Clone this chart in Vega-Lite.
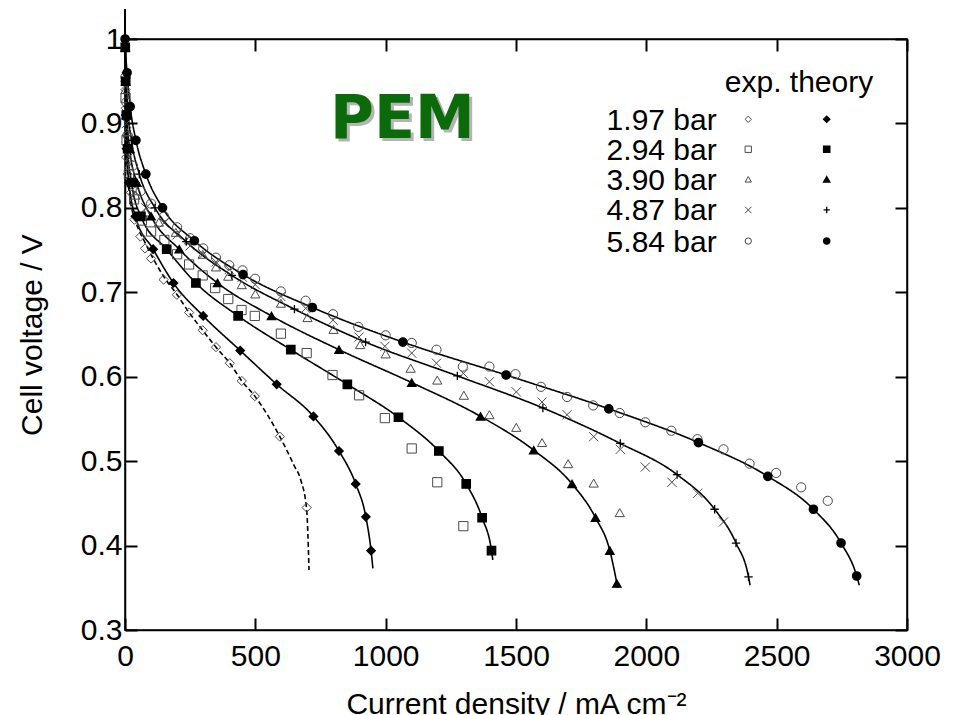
{
 "$schema": "https://vega.github.io/schema/vega-lite/v6.json",
 "width": 782, "height": 591,
 "autosize": {"type": "none"},
 "padding": {"left": 125, "top": 39, "right": 50, "bottom": 85},
 "background": "white",
 "config": {"view": {"stroke": "black", "strokeWidth": 1.5}, "font": "Liberation Sans"},
 "datasets": {
  "curves": [
   {"p":"1.97","kind":"theory","x":0,"y":1.035},{"p":"1.97","kind":"theory","x":0.5,"y":0.99},{"p":"1.97","kind":"theory","x":1.5,"y":0.95},{"p":"1.97","kind":"theory","x":3,"y":0.91},{"p":"1.97","kind":"theory","x":6,"y":0.87},{"p":"1.97","kind":"theory","x":15,"y":0.83},{"p":"1.97","kind":"theory","x":40,"y":0.79},{"p":"1.97","kind":"theory","x":108,"y":0.751},{"p":"1.97","kind":"theory","x":186,"y":0.711},{"p":"1.97","kind":"theory","x":300,"y":0.672},{"p":"1.97","kind":"theory","x":442,"y":0.631},{"p":"1.97","kind":"theory","x":582,"y":0.591},{"p":"1.97","kind":"theory","x":723,"y":0.553},{"p":"1.97","kind":"theory","x":821,"y":0.512},{"p":"1.97","kind":"theory","x":885,"y":0.473},{"p":"1.97","kind":"theory","x":924,"y":0.434},{"p":"1.97","kind":"theory","x":944,"y":0.394},{"p":"1.97","kind":"theory","x":951,"y":0.373},
   {"p":"2.94","kind":"theory","x":0,"y":1.035},{"p":"2.94","kind":"theory","x":1,"y":0.99},{"p":"2.94","kind":"theory","x":2.5,"y":0.95},{"p":"2.94","kind":"theory","x":5,"y":0.91},{"p":"2.94","kind":"theory","x":10,"y":0.87},{"p":"2.94","kind":"theory","x":25,"y":0.83},{"p":"2.94","kind":"theory","x":61,"y":0.79},{"p":"2.94","kind":"theory","x":160,"y":0.751},{"p":"2.94","kind":"theory","x":272,"y":0.711},{"p":"2.94","kind":"theory","x":434,"y":0.672},{"p":"2.94","kind":"theory","x":636,"y":0.632},{"p":"2.94","kind":"theory","x":853,"y":0.591},{"p":"2.94","kind":"theory","x":1049,"y":0.552},{"p":"2.94","kind":"theory","x":1204,"y":0.512},{"p":"2.94","kind":"theory","x":1309,"y":0.473},{"p":"2.94","kind":"theory","x":1370,"y":0.433},{"p":"2.94","kind":"theory","x":1406,"y":0.394},{"p":"2.94","kind":"theory","x":1411,"y":0.383},
   {"p":"3.90","kind":"theory","x":0,"y":1.035},{"p":"3.90","kind":"theory","x":1,"y":0.99},{"p":"3.90","kind":"theory","x":3,"y":0.95},{"p":"3.90","kind":"theory","x":7,"y":0.91},{"p":"3.90","kind":"theory","x":18,"y":0.87},{"p":"3.90","kind":"theory","x":45,"y":0.83},{"p":"3.90","kind":"theory","x":100,"y":0.79},{"p":"3.90","kind":"theory","x":208,"y":0.751},{"p":"3.90","kind":"theory","x":355,"y":0.711},{"p":"3.90","kind":"theory","x":562,"y":0.672},{"p":"3.90","kind":"theory","x":821,"y":0.632},{"p":"3.90","kind":"theory","x":1100,"y":0.593},{"p":"3.90","kind":"theory","x":1364,"y":0.553},{"p":"3.90","kind":"theory","x":1568,"y":0.513},{"p":"3.90","kind":"theory","x":1715,"y":0.473},{"p":"3.90","kind":"theory","x":1805,"y":0.433},{"p":"3.90","kind":"theory","x":1860,"y":0.394},{"p":"3.90","kind":"theory","x":1887,"y":0.355},{"p":"3.90","kind":"theory","x":1890,"y":0.35},
   {"p":"4.87","kind":"theory","x":0,"y":1.035},{"p":"4.87","kind":"theory","x":1,"y":1.0},{"p":"4.87","kind":"theory","x":4,"y":0.96},{"p":"4.87","kind":"theory","x":10,"y":0.92},{"p":"4.87","kind":"theory","x":25,"y":0.88},{"p":"4.87","kind":"theory","x":55,"y":0.84},{"p":"4.87","kind":"theory","x":115,"y":0.8},{"p":"4.87","kind":"theory","x":235,"y":0.76},{"p":"4.87","kind":"theory","x":410,"y":0.72},{"p":"4.87","kind":"theory","x":650,"y":0.68},{"p":"4.87","kind":"theory","x":923,"y":0.641},{"p":"4.87","kind":"theory","x":1275,"y":0.601},{"p":"4.87","kind":"theory","x":1603,"y":0.563},{"p":"4.87","kind":"theory","x":1900,"y":0.521},{"p":"4.87","kind":"theory","x":2118,"y":0.484},{"p":"4.87","kind":"theory","x":2262,"y":0.443},{"p":"4.87","kind":"theory","x":2344,"y":0.403},{"p":"4.87","kind":"theory","x":2392,"y":0.363},{"p":"4.87","kind":"theory","x":2398,"y":0.353},
   {"p":"5.84","kind":"theory","x":0,"y":1.035},{"p":"5.84","kind":"theory","x":0.5,"y":1.0},{"p":"5.84","kind":"theory","x":8,"y":0.96},{"p":"5.84","kind":"theory","x":20,"y":0.92},{"p":"5.84","kind":"theory","x":42,"y":0.88},{"p":"5.84","kind":"theory","x":80,"y":0.84},{"p":"5.84","kind":"theory","x":144,"y":0.8},{"p":"5.84","kind":"theory","x":266,"y":0.761},{"p":"5.84","kind":"theory","x":453,"y":0.721},{"p":"5.84","kind":"theory","x":719,"y":0.682},{"p":"5.84","kind":"theory","x":1066,"y":0.641},{"p":"5.84","kind":"theory","x":1462,"y":0.602},{"p":"5.84","kind":"theory","x":1856,"y":0.562},{"p":"5.84","kind":"theory","x":2200,"y":0.522},{"p":"5.84","kind":"theory","x":2466,"y":0.482},{"p":"5.84","kind":"theory","x":2641,"y":0.443},{"p":"5.84","kind":"theory","x":2747,"y":0.403},{"p":"5.84","kind":"theory","x":2807,"y":0.364},{"p":"5.84","kind":"theory","x":2817,"y":0.353},
   {"p":"1.97","kind":"fit","x":0,"y":1.035},{"p":"1.97","kind":"fit","x":1,"y":0.95},{"p":"1.97","kind":"fit","x":3,"y":0.9},{"p":"1.97","kind":"fit","x":8,"y":0.85},{"p":"1.97","kind":"fit","x":20,"y":0.81},{"p":"1.97","kind":"fit","x":40,"y":0.785},{"p":"1.97","kind":"fit","x":80,"y":0.757},{"p":"1.97","kind":"fit","x":150,"y":0.718},{"p":"1.97","kind":"fit","x":200,"y":0.697},{"p":"1.97","kind":"fit","x":246,"y":0.676},{"p":"1.97","kind":"fit","x":298,"y":0.655},{"p":"1.97","kind":"fit","x":349,"y":0.635},{"p":"1.97","kind":"fit","x":402,"y":0.616},{"p":"1.97","kind":"fit","x":448,"y":0.595},{"p":"1.97","kind":"fit","x":498,"y":0.577},{"p":"1.97","kind":"fit","x":594,"y":0.529},{"p":"1.97","kind":"fit","x":650,"y":0.494},{"p":"1.97","kind":"fit","x":674,"y":0.478},{"p":"1.97","kind":"fit","x":697,"y":0.442},{"p":"1.97","kind":"fit","x":706,"y":0.371}
  ],
  "theory": [
   {"p":"1.97","x":0.5,"y":0.99},{"p":"1.97","x":1.5,"y":0.95},{"p":"1.97","x":3,"y":0.91},{"p":"1.97","x":6,"y":0.87},{"p":"1.97","x":15,"y":0.83},{"p":"1.97","x":40,"y":0.79},{"p":"1.97","x":108,"y":0.751},{"p":"1.97","x":186,"y":0.711},{"p":"1.97","x":300,"y":0.672},{"p":"1.97","x":442,"y":0.631},{"p":"1.97","x":582,"y":0.591},{"p":"1.97","x":723,"y":0.553},{"p":"1.97","x":821,"y":0.512},{"p":"1.97","x":885,"y":0.473},{"p":"1.97","x":924,"y":0.434},{"p":"1.97","x":944,"y":0.394},
   {"p":"2.94","x":1,"y":0.99},{"p":"2.94","x":2.5,"y":0.95},{"p":"2.94","x":5,"y":0.91},{"p":"2.94","x":10,"y":0.87},{"p":"2.94","x":25,"y":0.83},{"p":"2.94","x":61,"y":0.79},{"p":"2.94","x":160,"y":0.751},{"p":"2.94","x":272,"y":0.711},{"p":"2.94","x":434,"y":0.672},{"p":"2.94","x":636,"y":0.632},{"p":"2.94","x":853,"y":0.591},{"p":"2.94","x":1049,"y":0.552},{"p":"2.94","x":1204,"y":0.512},{"p":"2.94","x":1309,"y":0.473},{"p":"2.94","x":1370,"y":0.433},{"p":"2.94","x":1406,"y":0.394},
   {"p":"3.90","x":1,"y":0.99},{"p":"3.90","x":3,"y":0.95},{"p":"3.90","x":7,"y":0.91},{"p":"3.90","x":18,"y":0.87},{"p":"3.90","x":45,"y":0.83},{"p":"3.90","x":100,"y":0.79},{"p":"3.90","x":208,"y":0.751},{"p":"3.90","x":355,"y":0.711},{"p":"3.90","x":562,"y":0.672},{"p":"3.90","x":821,"y":0.632},{"p":"3.90","x":1100,"y":0.593},{"p":"3.90","x":1364,"y":0.553},{"p":"3.90","x":1568,"y":0.513},{"p":"3.90","x":1715,"y":0.473},{"p":"3.90","x":1805,"y":0.433},{"p":"3.90","x":1860,"y":0.394},{"p":"3.90","x":1887,"y":0.355},
   {"p":"4.87","x":1,"y":1.0},{"p":"4.87","x":4,"y":0.96},{"p":"4.87","x":10,"y":0.92},{"p":"4.87","x":25,"y":0.88},{"p":"4.87","x":55,"y":0.84},{"p":"4.87","x":115,"y":0.8},{"p":"4.87","x":235,"y":0.76},{"p":"4.87","x":410,"y":0.72},{"p":"4.87","x":650,"y":0.68},{"p":"4.87","x":923,"y":0.641},{"p":"4.87","x":1275,"y":0.601},{"p":"4.87","x":1603,"y":0.563},{"p":"4.87","x":1900,"y":0.521},{"p":"4.87","x":2118,"y":0.484},{"p":"4.87","x":2262,"y":0.443},{"p":"4.87","x":2344,"y":0.403},{"p":"4.87","x":2392,"y":0.363},
   {"p":"5.84","x":0.5,"y":1.0},{"p":"5.84","x":8,"y":0.96},{"p":"5.84","x":20,"y":0.92},{"p":"5.84","x":42,"y":0.88},{"p":"5.84","x":80,"y":0.84},{"p":"5.84","x":144,"y":0.8},{"p":"5.84","x":266,"y":0.761},{"p":"5.84","x":453,"y":0.721},{"p":"5.84","x":719,"y":0.682},{"p":"5.84","x":1066,"y":0.641},{"p":"5.84","x":1462,"y":0.602},{"p":"5.84","x":1856,"y":0.562},{"p":"5.84","x":2200,"y":0.522},{"p":"5.84","x":2466,"y":0.482},{"p":"5.84","x":2641,"y":0.443},{"p":"5.84","x":2747,"y":0.403},{"p":"5.84","x":2807,"y":0.364}
  ],
  "exp": [
   {"p":"1.97","x":2,"y":0.94},{"p":"1.97","x":3,"y":0.918},{"p":"1.97","x":5,"y":0.86},{"p":"1.97","x":10,"y":0.84},{"p":"1.97","x":23,"y":0.818},{"p":"1.97","x":36,"y":0.786},{"p":"1.97","x":59,"y":0.766},{"p":"1.97","x":77,"y":0.752},{"p":"1.97","x":100,"y":0.74},{"p":"1.97","x":148,"y":0.715},{"p":"1.97","x":199,"y":0.697},{"p":"1.97","x":246,"y":0.676},{"p":"1.97","x":298,"y":0.655},{"p":"1.97","x":349,"y":0.635},{"p":"1.97","x":402,"y":0.616},{"p":"1.97","x":448,"y":0.595},{"p":"1.97","x":498,"y":0.577},{"p":"1.97","x":594,"y":0.529},{"p":"1.97","x":697,"y":0.445},
   {"p":"2.94","x":2,"y":0.93},{"p":"2.94","x":6,"y":0.88},{"p":"2.94","x":15,"y":0.84},{"p":"2.94","x":35,"y":0.81},{"p":"2.94","x":65,"y":0.785},{"p":"2.94","x":100,"y":0.772},{"p":"2.94","x":151,"y":0.762},{"p":"2.94","x":200,"y":0.745},{"p":"2.94","x":246,"y":0.733},{"p":"2.94","x":298,"y":0.72},{"p":"2.94","x":346,"y":0.705},{"p":"2.94","x":396,"y":0.692},{"p":"2.94","x":447,"y":0.679},{"p":"2.94","x":498,"y":0.672},{"p":"2.94","x":598,"y":0.651},{"p":"2.94","x":697,"y":0.628},{"p":"2.94","x":796,"y":0.602},{"p":"2.94","x":898,"y":0.578},{"p":"2.94","x":997,"y":0.551},{"p":"2.94","x":1100,"y":0.515},{"p":"2.94","x":1198,"y":0.475},{"p":"2.94","x":1298,"y":0.423},
   {"p":"3.90","x":2,"y":0.94},{"p":"3.90","x":6,"y":0.89},{"p":"3.90","x":15,"y":0.85},{"p":"3.90","x":40,"y":0.815},{"p":"3.90","x":80,"y":0.795},{"p":"3.90","x":130,"y":0.783},{"p":"3.90","x":195,"y":0.771},{"p":"3.90","x":246,"y":0.762},{"p":"3.90","x":298,"y":0.745},{"p":"3.90","x":349,"y":0.73},{"p":"3.90","x":396,"y":0.719},{"p":"3.90","x":448,"y":0.709},{"p":"3.90","x":500,"y":0.698},{"p":"3.90","x":598,"y":0.687},{"p":"3.90","x":700,"y":0.67},{"p":"3.90","x":800,"y":0.656},{"p":"3.90","x":902,"y":0.638},{"p":"3.90","x":1000,"y":0.627},{"p":"3.90","x":1096,"y":0.61},{"p":"3.90","x":1198,"y":0.596},{"p":"3.90","x":1300,"y":0.578},{"p":"3.90","x":1398,"y":0.555},{"p":"3.90","x":1501,"y":0.54},{"p":"3.90","x":1600,"y":0.522},{"p":"3.90","x":1700,"y":0.497},{"p":"3.90","x":1798,"y":0.474},{"p":"3.90","x":1898,"y":0.439},
   {"p":"4.87","x":2,"y":0.95},{"p":"4.87","x":6,"y":0.9},{"p":"4.87","x":15,"y":0.86},{"p":"4.87","x":40,"y":0.825},{"p":"4.87","x":80,"y":0.8},{"p":"4.87","x":150,"y":0.782},{"p":"4.87","x":200,"y":0.768},{"p":"4.87","x":250,"y":0.755},{"p":"4.87","x":300,"y":0.745},{"p":"4.87","x":349,"y":0.736},{"p":"4.87","x":400,"y":0.727},{"p":"4.87","x":450,"y":0.718},{"p":"4.87","x":500,"y":0.709},{"p":"4.87","x":598,"y":0.695},{"p":"4.87","x":693,"y":0.681},{"p":"4.87","x":798,"y":0.667},{"p":"4.87","x":898,"y":0.647},{"p":"4.87","x":997,"y":0.636},{"p":"4.87","x":1100,"y":0.628},{"p":"4.87","x":1195,"y":0.616},{"p":"4.87","x":1298,"y":0.604},{"p":"4.87","x":1398,"y":0.594},{"p":"4.87","x":1501,"y":0.582},{"p":"4.87","x":1600,"y":0.57},{"p":"4.87","x":1696,"y":0.555},{"p":"4.87","x":1798,"y":0.529},{"p":"4.87","x":1900,"y":0.514},{"p":"4.87","x":1996,"y":0.493},{"p":"4.87","x":2098,"y":0.475},{"p":"4.87","x":2197,"y":0.462},{"p":"4.87","x":2296,"y":0.428},
   {"p":"5.84","x":2,"y":0.955},{"p":"5.84","x":5,"y":0.925},{"p":"5.84","x":12,"y":0.885},{"p":"5.84","x":30,"y":0.85},{"p":"5.84","x":60,"y":0.82},{"p":"5.84","x":100,"y":0.805},{"p":"5.84","x":150,"y":0.79},{"p":"5.84","x":200,"y":0.777},{"p":"5.84","x":250,"y":0.764},{"p":"5.84","x":300,"y":0.752},{"p":"5.84","x":349,"y":0.741},{"p":"5.84","x":400,"y":0.732},{"p":"5.84","x":451,"y":0.726},{"p":"5.84","x":499,"y":0.716},{"p":"5.84","x":598,"y":0.701},{"p":"5.84","x":693,"y":0.69},{"p":"5.84","x":798,"y":0.674},{"p":"5.84","x":895,"y":0.659},{"p":"5.84","x":1000,"y":0.649},{"p":"5.84","x":1100,"y":0.64},{"p":"5.84","x":1195,"y":0.632},{"p":"5.84","x":1296,"y":0.612},{"p":"5.84","x":1398,"y":0.612},{"p":"5.84","x":1498,"y":0.603},{"p":"5.84","x":1596,"y":0.588},{"p":"5.84","x":1696,"y":0.576},{"p":"5.84","x":1796,"y":0.566},{"p":"5.84","x":1898,"y":0.557},{"p":"5.84","x":1996,"y":0.546},{"p":"5.84","x":2096,"y":0.536},{"p":"5.84","x":2196,"y":0.526},{"p":"5.84","x":2296,"y":0.514},{"p":"5.84","x":2396,"y":0.497},{"p":"5.84","x":2498,"y":0.486},{"p":"5.84","x":2594,"y":0.469},{"p":"5.84","x":2696,"y":0.453}
  ],
  "legend": [
   {"label":"1.97 bar","p":"1.97","y":0.9049},{"label":"2.94 bar","p":"2.94","y":0.8694},{"label":"3.90 bar","p":"3.90","y":0.8338},{"label":"4.87 bar","p":"4.87","y":0.7975},{"label":"5.84 bar","p":"5.84","y":0.7607}
  ]
 },
 "layer": [
  {
   "data": {"name": "curves"},
   "mark": {"type": "line", "interpolate": "monotone", "color": "black", "strokeWidth": 1.6},
   "encoding": {
    "x": {"field": "x", "type": "quantitative", "scale": {"domain": [0, 3000], "nice": false, "zero": false},
     "axis": {"orient": "bottom", "values": [0,500,1000,1500,2000,2500,3000],
      "format": "d", "ticks": true, "tickSize": -12, "tickColor": "black", "tickWidth": 2,
      "domainColor": "black", "domainWidth": 1.5, "grid": false,
      "labelFont": "Liberation Sans", "labelFontSize": 30, "labelColor": "black", "labelPadding": 23, "labelFlush": false, "labelOverlap": false,
      "title": "Current density / mA cm⁻²", "titleFont": "Liberation Sans", "titleFontSize": 30, "titleFontWeight": "normal", "titleColor": "black", "titlePadding": 18}},
    "y": {"field": "y", "type": "quantitative", "scale": {"domain": [0.3, 1], "nice": false, "zero": false},
     "axis": {"orient": "left", "values": [0.3,0.4,0.5,0.6,0.7,0.8,0.9,1],
      "format": ".1~f", "ticks": true, "tickSize": -12, "tickColor": "black", "tickWidth": 2,
      "domainColor": "black", "domainWidth": 1.5, "grid": false,
      "labelFont": "Liberation Sans", "labelFontSize": 30, "labelColor": "black", "labelPadding": 15, "labelFlush": false, "labelOverlap": false,
      "title": "Cell voltage / V", "titleFont": "Liberation Sans", "titleFontSize": 30, "titleFontWeight": "normal", "titleColor": "black", "titlePadding": 33}},
    "detail": {"field": "p", "type": "nominal"},
    "strokeDash": {"field": "kind", "type": "nominal", "scale": {"domain": ["theory", "fit"], "range": [[1, 0], [5, 3]]}, "legend": null}
   }
  },
  {
   "data": {"name": "exp"},
   "mark": {"type": "point", "filled": false, "stroke": "#4a4a4a", "strokeWidth": 1, "size": 85, "opacity": 1},
   "encoding": {
    "x": {"field": "x", "type": "quantitative", "scale": {"domain": [0, 3000], "nice": false, "zero": false},
     "axis": {"orient": "top", "values": [0,500,1000,1500,2000,2500,3000],
      "labels": true, "labelExpr": "''", "title": null, "grid": false, "domain": true, "domainColor": "black", "domainWidth": 1.5,
      "ticks": true, "tickSize": -12, "tickColor": "black", "tickWidth": 2}},
    "y": {"field": "y", "type": "quantitative", "scale": {"domain": [0.3, 1], "nice": false, "zero": false},
     "axis": {"orient": "right", "values": [0.3,0.4,0.5,0.6,0.7,0.8,0.9,1],
      "labels": true, "labelExpr": "''", "title": null, "grid": false, "domain": true, "domainColor": "black", "domainWidth": 1.5,
      "ticks": true, "tickSize": -12, "tickColor": "black", "tickWidth": 2}},
    "shape": {"field": "p", "type": "nominal", "scale": {"domain": ["1.97","2.94","3.90","4.87","5.84"], "range": ["diamond", "square", "triangle-up", "M-1,-1L1,1M-1,1L1,-1", "circle"]}, "legend": null}
   }
  },
  {
   "data": {"name": "theory"},
   "mark": {"type": "point", "filled": true, "color": "black", "stroke": "black", "strokeWidth": 1.3, "size": 70, "opacity": 1},
   "encoding": {
    "x": {"field": "x", "type": "quantitative", "scale": {"domain": [0, 3000], "nice": false, "zero": false}, "axis": null},
    "y": {"field": "y", "type": "quantitative", "scale": {"domain": [0.3, 1], "nice": false, "zero": false}, "axis": null},
    "shape": {"field": "p", "type": "nominal", "scale": {"domain": ["1.97","2.94","3.90","4.87","5.84"], "range": ["diamond", "square", "triangle-up", "M-1,0L1,0M0,-1L0,1", "circle"]}, "legend": null}
   }
  },
  {
   "data": {"name": "legend"},
   "mark": {"type": "text", "align": "right", "baseline": "alphabetic", "dy": 10.5, "font": "Liberation Sans", "fontSize": 30, "color": "black"},
   "encoding": {
    "x": {"datum": 2270, "type": "quantitative", "scale": {"domain": [0, 3000], "nice": false, "zero": false}, "axis": null},
    "y": {"field": "y", "type": "quantitative", "scale": {"domain": [0.3, 1], "nice": false, "zero": false}, "axis": null},
    "text": {"field": "label"}
   }
  },
  {
   "data": {"name": "legend"},
   "mark": {"type": "point", "filled": false, "stroke": "#4a4a4a", "strokeWidth": 1, "size": 40, "opacity": 1},
   "encoding": {
    "x": {"datum": 2391, "type": "quantitative", "scale": {"domain": [0, 3000], "nice": false, "zero": false}, "axis": null},
    "y": {"field": "y", "type": "quantitative", "scale": {"domain": [0.3, 1], "nice": false, "zero": false}, "axis": null},
    "shape": {"field": "p", "type": "nominal", "scale": {"domain": ["1.97","2.94","3.90","4.87","5.84"], "range": ["diamond", "square", "triangle-up", "M-1,-1L1,1M-1,1L1,-1", "circle"]}, "legend": null}
   }
  },
  {
   "data": {"name": "legend"},
   "mark": {"type": "point", "filled": true, "color": "black", "stroke": "black", "strokeWidth": 1.3, "size": 40, "opacity": 1},
   "encoding": {
    "x": {"datum": 2692, "type": "quantitative", "scale": {"domain": [0, 3000], "nice": false, "zero": false}, "axis": null},
    "y": {"field": "y", "type": "quantitative", "scale": {"domain": [0.3, 1], "nice": false, "zero": false}, "axis": null},
    "shape": {"field": "p", "type": "nominal", "scale": {"domain": ["1.97","2.94","3.90","4.87","5.84"], "range": ["diamond", "square", "triangle-up", "M-1,0L1,0M0,-1L0,1", "circle"]}, "legend": null}
   }
  },
  {
   "data": {"values": [{"t": "exp. theory"}]},
   "mark": {"type": "text", "align": "left", "baseline": "alphabetic", "font": "Liberation Sans", "fontSize": 30, "color": "black"},
   "encoding": {
    "x": {"datum": 2301, "type": "quantitative", "scale": {"domain": [0, 3000], "nice": false, "zero": false}, "axis": null},
    "y": {"datum": 0.9376, "type": "quantitative", "scale": {"domain": [0.3, 1], "nice": false, "zero": false}, "axis": null},
    "text": {"field": "t"}
   }
  },
  {
   "data": {"values": [{"t": "PEM"}]},
   "mark": {"type": "text", "align": "center", "baseline": "alphabetic", "font": "DejaVu Sans", "fontWeight": "bold", "fontSize": 60, "color": "#b4b4b4", "dx": 3, "dy": 3},
   "encoding": {
    "x": {"datum": 1064, "type": "quantitative", "scale": {"domain": [0, 3000], "nice": false, "zero": false}, "axis": null},
    "y": {"datum": 0.8824, "type": "quantitative", "scale": {"domain": [0.3, 1], "nice": false, "zero": false}, "axis": null},
    "text": {"field": "t"}
   }
  },
  {
   "data": {"values": [{"t": "PEM"}]},
   "mark": {"type": "text", "align": "center", "baseline": "alphabetic", "font": "DejaVu Sans", "fontWeight": "bold", "fontSize": 60, "color": "#0b6b0b"},
   "encoding": {
    "x": {"datum": 1064, "type": "quantitative", "scale": {"domain": [0, 3000], "nice": false, "zero": false}, "axis": null},
    "y": {"datum": 0.8824, "type": "quantitative", "scale": {"domain": [0.3, 1], "nice": false, "zero": false}, "axis": null},
    "text": {"field": "t"}
   }
  }
 ],
 "resolve": {"scale": {"shape": "independent", "strokeDash": "independent"}, "axis": {"x": "independent", "y": "independent"}}
}
